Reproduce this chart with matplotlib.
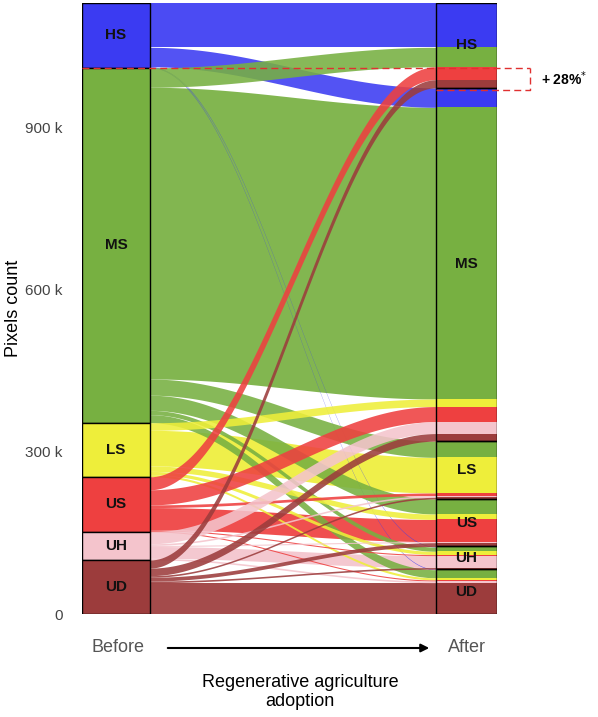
import numpy as np
import matplotlib.pyplot as plt
from matplotlib.ticker import FuncFormatter
from matplotlib.patches import FancyArrowPatch

plt.rcParams['font.family'] = ['Liberation Sans', 'DejaVu Sans']

classes = ["HS", "MS", "LS", "US", "UH", "UD"]
colors = ["#3b3bf2", "#77b041", "#eeee3a", "#ee4040", "#f4c4cc", "#9c3c3c"]
# flows[i][j]: thousands of pixels from class i (before) to class j (after)
flows = np.array([
    [82, 36, 0, 0, 1, 1],
    [36, 540, 30, 28, 8, 15],
    [0, 14, 66, 10, 6, 4],
    [24, 28, 5, 41, 2, 2],
    [0, 22, 3, 2, 22, 3],
    [15, 14, 3, 7, 3, 58],
], dtype=float)

n = len(classes)
X0L, X0R, X1L, X1R = 0.0, 1.0, 5.2, 6.1

fig = plt.figure(figsize=(5.98, 7.17), dpi=100)
ax = fig.add_axes([82/598, 1-614/717, (497-82)/598, (614-3)/717])

before_tot = flows.sum(axis=1)
after_tot = flows.sum(axis=0)
total = flows.sum()

def tops(tots):
    t = []
    cur = total
    for v in tots:
        t.append(cur)
        cur -= v
    return t

btop = tops(before_tot)
atop = tops(after_tot)

bseg = {}
cur = {i: btop[i] for i in range(n)}
for i in range(n):
    for j in range(n):
        v = flows[i, j]
        bseg[(i, j)] = (cur[i], cur[i] - v)
        cur[i] -= v
aseg = {}
cur = {j: atop[j] for j in range(n)}
for j in range(n):
    for i in range(n):
        v = flows[i, j]
        aseg[(i, j)] = (cur[j], cur[j] - v)
        cur[j] -= v

t = np.linspace(0, 1, 100)
s = (1 - np.cos(np.pi * t)) / 2
xs = X0R + (X1L - X0R) * t

order = [(i, i) for i in range(n)] + [(i, j) for i in range(n) for j in range(n) if i != j]
for (i, j) in order:
    v = flows[i, j]
    if v <= 0:
        continue
    bt, bb = bseg[(i, j)]
    at, ab = aseg[(i, j)]
    top = bt + (at - bt) * s
    bot = bb + (ab - bb) * s
    ax.fill_between(xs, bot, top, color=colors[i], alpha=0.92 if i == j else 0.88, lw=0,
                    zorder=2 if i == j else 3)

for i in range(n):
    ax.add_patch(plt.Rectangle((X0L, btop[i] - before_tot[i]), X0R - X0L, before_tot[i],
                               facecolor=colors[i], edgecolor="black", lw=1, zorder=4))
    ax.text((X0L + X0R) / 2, btop[i] - before_tot[i] / 2, classes[i], ha="center", va="center",
            fontsize=11, fontweight="bold", color="#111111", zorder=5)
for (i, j), (a, b) in aseg.items():
    if a - b > 0:
        ax.add_patch(plt.Rectangle((X1L, b), X1R - X1L, a - b, facecolor=colors[i], lw=0, zorder=4))
for j in range(n):
    ax.add_patch(plt.Rectangle((X1L, atop[j] - after_tot[j]), X1R - X1L, after_tot[j],
                               facecolor="none", edgecolor="black", lw=1, zorder=5))
    ax.text((X1L + X1R) / 2, atop[j] - after_tot[j] / 2, classes[j], ha="center", va="center",
            fontsize=11, fontweight="bold", color="#111111", zorder=6)

# +28% bracket
y_hi = btop[1]
y_lo = y_hi - 41
xb = 6.59
ax.plot([X0L, xb], [y_hi, y_hi], ls=(0, (5, 3)), color="#e03030", lw=1, zorder=7, clip_on=False)
ax.plot([X1L, xb, xb], [y_lo, y_lo, y_hi], ls=(0, (5, 3)), color="#e03030", lw=1, zorder=7, clip_on=False)
ax.text(6.74, (y_hi + y_lo) / 2, "+ 28%$^{*}$", ha="left", va="center", fontsize=10,
        fontweight="bold", clip_on=False)

ax.set_xlim(X0L, X1R)
ax.set_ylim(0, total)
for sp in ax.spines.values():
    sp.set_visible(False)
ax.set_xticks([])
ax.set_yticks([0, 300, 600, 900])
ax.yaxis.set_major_formatter(FuncFormatter(lambda v, p: "0" if v == 0 else f"{int(v)} k"))
ax.tick_params(axis="y", length=0, labelsize=11, colors="#444444", pad=14)
ax.set_ylabel("Pixels count", fontsize=13, labelpad=2)

fig.text(118/598, 1-648/717, "Before", ha="center", va="center", fontsize=13, color="#555555")
fig.text(467/598, 1-648/717, "After", ha="center", va="center", fontsize=13, color="#555555")
fig.add_artist(FancyArrowPatch((165/598, 1-648/717), (432/598, 1-648/717),
               transform=fig.transFigure, arrowstyle="-|>", mutation_scale=12, color="black", lw=1.5))
fig.text(300/598, 1-692/717, "Regenerative agriculture\nadoption", ha="center", va="center",
         fontsize=13, linespacing=1.1)

fig.savefig("out.png", dpi=100)
